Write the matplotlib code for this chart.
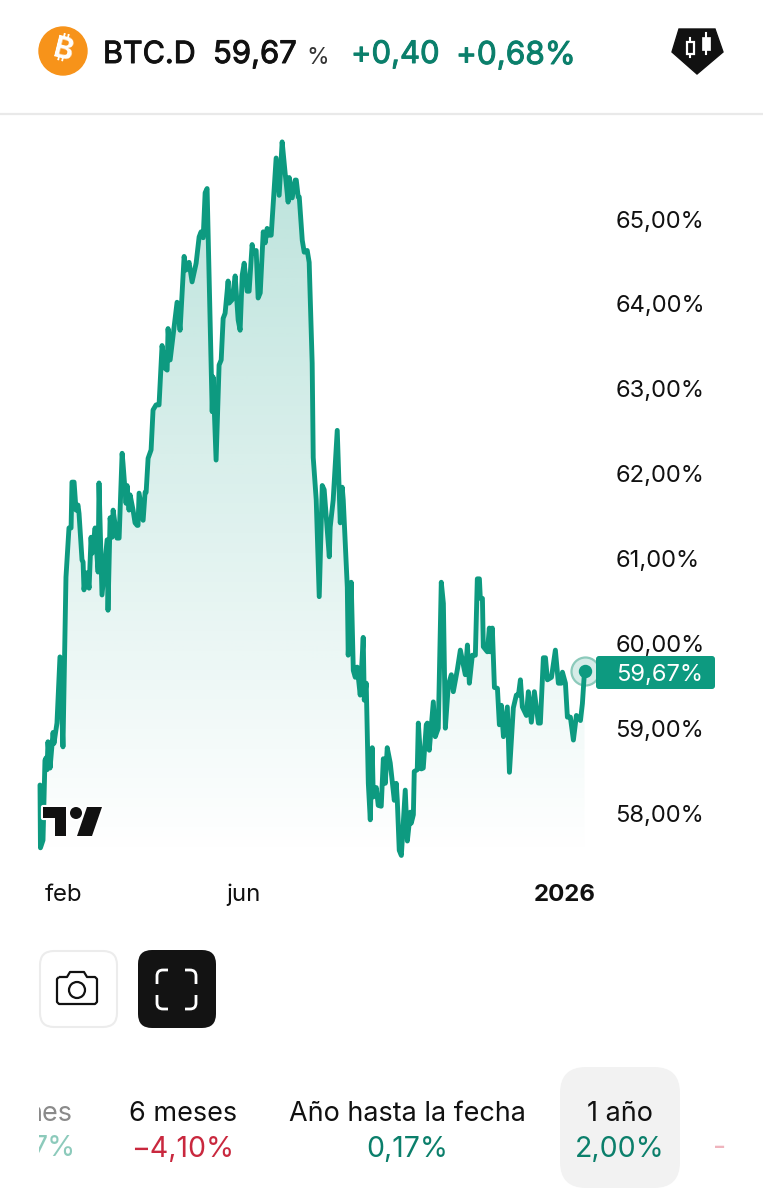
import numpy as np
import matplotlib
matplotlib.use("Agg")
import matplotlib.pyplot as plt
import matplotlib.patheffects as pe
from matplotlib.patches import FancyBboxPatch, Circle, Polygon, Rectangle
from matplotlib.path import Path
from matplotlib.patches import PathPatch
from matplotlib.colors import to_rgb

# --- data -----------------------------------------------------------------
days = [0, 0.3, 2, 3.3, 4, 4.7, 5.3, 6.7, 8.7, 9.3, 11.3, 13.3, 15.3, 17.3, 19.3, 20.7, 21.3, 22.7, 24, 25.3,
        26, 28, 28.7, 29.3, 30.7, 31.3, 32.7, 34, 34.7, 36.7, 38.7, 39.3, 41.3, 44.7, 45.3, 46.7, 48, 48.7, 51.3, 52.7,
        54.7, 55.3, 57.3, 58, 59.3, 60, 62, 63.3, 64.7, 65.3, 66, 68.7, 70, 70.7, 72, 74, 75.3, 77.3, 79.3, 81.3,
        83.3, 84.7, 85.3, 86.7, 91.3, 93.3, 96, 97.3, 99.3, 101.3, 104, 106, 107.3, 108.7, 110, 111.3, 114.7, 115.3, 117.3, 119.3,
        120.7, 122, 123.3, 125.3, 126, 128, 130, 132, 133.3, 134.7, 136, 138, 139.3, 141.3, 142, 144, 145.3, 146.7, 148.7, 150,
        151.3, 152.7, 154, 157.3, 159.3, 161.3, 163.3, 165.3, 166, 168, 170, 170.7, 172, 172.7, 174.7, 176, 178, 179.3, 181.3, 182,
        184, 186, 188, 189.3, 192.7, 193.3, 195.3, 198, 200, 201.3, 202, 204.7, 205.3, 207.3, 208.7, 210, 211.3, 213.3, 215.3, 216,
        217.3, 218.7, 220, 221.3, 222, 224, 225.3, 227.3, 228.7, 230, 231.3, 233.3, 236, 237.3, 238, 239.3, 240.7, 243.3, 244.7, 246.7,
        247.3, 248.7, 249.3, 251.3, 252, 254, 255.3, 257.3, 258, 259.3, 262, 263.3, 265.3, 267.3, 268.7, 270, 272, 274, 275.3, 278,
        280, 283.3, 284.7, 286, 288, 290, 291.3, 292.7, 293.3, 294.7, 295.3, 298, 299.3, 300, 301.3, 302.7, 304.7, 306, 307.3, 308.7,
        311.3, 312.7, 315.3, 317.3, 318.7, 320, 321.3, 324, 325.3, 327.3, 329.3, 332, 333.3, 335.3, 336.7, 338, 340.7, 343.3, 345.3, 347.3,
        348, 350, 351.3, 353.3, 355.3, 357.3, 360, 361.3, 362.7]
dominance = [58.33, 57.59, 57.68, 58.62, 58.65, 58.51, 58.84, 58.53, 58.95, 58.82, 59.06, 59.84, 58.78, 60.78, 61.36, 61.36, 61.90, 61.90, 61.57, 61.63,
             61.53, 60.98, 60.96, 60.63, 60.83, 60.83, 60.65, 61.25, 61.06, 61.36, 60.84, 61.89, 60.57, 61.22, 60.39, 61.48, 61.25, 61.57, 61.24, 61.24,
             62.24, 62.12, 61.65, 61.86, 61.57, 61.75, 61.57, 61.42, 61.39, 61.39, 61.77, 61.45, 61.78, 61.78, 62.18, 62.28, 62.75, 62.81, 62.81, 63.51,
             63.24, 63.22, 63.71, 63.34, 64.02, 63.69, 64.56, 64.40, 64.49, 64.26, 64.48, 64.79, 64.85, 64.78, 65.31, 65.36, 62.73, 63.14, 62.16, 63.28,
             63.34, 63.83, 63.89, 64.27, 64.01, 64.05, 64.33, 63.81, 63.69, 64.34, 64.48, 64.15, 64.15, 64.70, 64.60, 64.63, 64.07, 64.13, 64.85, 64.72,
             64.89, 64.81, 64.81, 65.72, 65.28, 65.91, 65.54, 65.20, 65.49, 65.25, 65.46, 65.46, 65.26, 65.26, 64.75, 64.61, 64.63, 64.49, 63.30, 62.19,
             61.69, 60.55, 61.86, 61.81, 61.02, 61.37, 61.69, 62.51, 61.42, 61.84, 61.69, 60.66, 59.86, 60.72, 59.68, 59.60, 59.72, 59.39, 60.07, 59.33,
             59.53, 58.35, 57.92, 58.77, 58.19, 58.30, 58.09, 58.08, 58.64, 58.35, 58.77, 58.59, 58.15, 58.35, 58.15, 57.56, 57.50, 58.27, 57.67, 58.01,
             57.88, 57.98, 58.49, 58.51, 59.06, 58.52, 58.53, 59.04, 59.06, 58.74, 59.31, 58.90, 59.00, 60.72, 60.47, 59.00, 59.51, 59.63, 59.43, 59.69,
             59.92, 59.63, 59.98, 59.53, 59.86, 59.86, 60.76, 60.76, 60.53, 60.53, 59.96, 59.90, 60.18, 59.90, 60.18, 59.48, 59.47, 59.04, 59.27, 58.90,
             59.25, 58.48, 59.24, 59.39, 59.39, 59.57, 59.25, 59.15, 59.43, 59.07, 59.43, 59.06, 59.06, 59.83, 59.83, 59.57, 59.60, 59.92, 59.53, 59.53,
             59.66, 59.53, 59.13, 59.13, 58.86, 59.15, 59.09, 59.29, 59.67]
y_ticks = [58, 59, 60, 61, 62, 63, 64, 65]
x_ticks = [16, 135.5, 349.5]
x_tick_labels = ["feb", "jun", "2026"]
last_value = "59,67%"
period_names = ["6 meses", "Año hasta la fecha", "1 año"]
period_values = ["−4,10%", "0,17%", "2,00%"]

# --- style ----------------------------------------------------------------
W, H = 763, 1200
plt.rcParams["font.family"] = ["Inter", "Noto Sans", "Roboto", "Open Sans", "Lato", "Liberation Sans", "DejaVu Sans"]
TEAL = "#0d9a80"
GREEN = "#0b7f6b"
RED = "#c9283e"
INK = "#111111"
px = 0.72  # font points per pixel at dpi 100

fig = plt.figure(figsize=(W / 100, H / 100), dpi=100, facecolor="white")


def box(x0, y0, x1, y1):
    return [x0 / W, 1 - y1 / H, (x1 - x0) / W, (y1 - y0) / H]


# --- chart ----------------------------------------------------------------
ax = fig.add_axes(box(40, 130, 584.5, 858))
d = np.array(days)
v = np.array(dominance)
ylim = (57.47, 66.05)
xlim = (0, 362.7)
grad = np.zeros((256, 1, 4))
grad[..., :3] = to_rgb(TEAL)
grad[:, 0, 3] = np.linspace(0.29, 0.0, 256)
im = ax.imshow(grad, extent=(xlim[0], xlim[1], ylim[0], ylim[1]), aspect="auto", origin="upper", zorder=1)
poly = ax.fill_between(d, v, ylim[0], color="none", zorder=1)
im.set_clip_path(poly.get_paths()[0], transform=ax.transData)
ax.plot(d, v, color=TEAL, lw=3.5, solid_joinstyle="round", solid_capstyle="round", zorder=3, clip_on=False)
ax.scatter([d[-1]], [v[-1]], s=(28 * px) ** 2, facecolor="#d6ece8", edgecolor="#8ccabb", linewidth=1.6, zorder=2, clip_on=False)
ax.scatter([d[-1]], [v[-1]], s=(12 * px) ** 2, color=TEAL, zorder=4, clip_on=False)
ax.set_xlim(*xlim)
ax.set_ylim(*ylim)
for s in ax.spines.values():
    s.set_visible(False)
ax.patch.set_alpha(0)
ax.yaxis.tick_right()
ax.set_yticks(y_ticks)
ax.set_yticklabels([f"{t},00%" for t in y_ticks], fontsize=23.7 * px, color=INK)
ax.set_xticks(x_ticks)
ax.set_xticklabels(x_tick_labels, fontsize=24 * px, color=INK)
ax.get_xticklabels()[2].set_fontweight("bold")
ax.tick_params(axis="both", length=0)
ax.tick_params(axis="y", pad=31 * px)
ax.tick_params(axis="x", pad=26 * px)

# --- interface layer ------------------------------------------------------
ui = fig.add_axes([0, 0, 1, 1], zorder=5)
ui.set_xlim(0, W)
ui.set_ylim(H, 0)
ui.axis("off")
ui.patch.set_alpha(0)


def rbox(x0, y0, x1, y1, r, **kw):
    p = FancyBboxPatch((x0 + r, y0 + r), x1 - x0 - 2 * r, y1 - y0 - 2 * r,
                       boxstyle=f"round,pad={r},rounding_size={r}", **kw)
    ui.add_patch(p)
    return p


def txt(x, y, s, size, color=INK, ha="left", weight="normal", heavy=0.0, **kw):
    t = ui.text(x, y, s, fontsize=size * px, color=color, ha=ha, va="center_baseline", fontweight=weight, **kw)
    if heavy:
        t.set_path_effects([pe.withStroke(linewidth=heavy, foreground=color)])
    return t


# header
ui.add_patch(Circle((63, 51), 24, color="#f7931a"))
ui.text(63, 51, "₿", fontsize=30 * px, color="white", ha="center", va="center", fontweight="bold", rotation=-14)
txt(103, 52, "BTC.D", 30.5, heavy=0.7)
txt(213, 52, "59,67", 31, heavy=0.7)
txt(306, 56, "%", 23, color="#333333")
txt(351, 52, "+0,40", 31, color=GREEN, heavy=0.7)
txt(456, 52, "+0,68%", 31.5, color=GREEN, heavy=0.7)
ui.plot([0, W], [114, 114], color="#e9e9e9", lw=1.6)

# ribbon icon
ui.add_patch(Polygon([(679, 29), (715, 29), (723, 52), (697, 74), (672, 52)], closed=True, color="#111111"))
ui.plot([690, 690], [38, 57], color="white", lw=1.5, zorder=3)
ui.add_patch(Rectangle((686.5, 42), 7, 12, fc="#111111", ec="white", lw=1.6, zorder=4))
ui.add_patch(Rectangle((702, 37), 8, 13, fc="white", ec="white", lw=0.5, zorder=3))
ui.plot([706, 706], [33, 54], color="white", lw=1.5, zorder=3)

# TradingView logo
halo = dict(ec="white", lw=3, joinstyle="round")
logo_t = [(43, 807), (66, 807), (66, 836), (55, 836), (55, 818), (43, 818)]
logo_s = [(87, 807), (102, 807), (92, 836), (77, 836)]
for pts in (logo_t, logo_s):
    ui.add_patch(Polygon(pts, closed=True, fc="#111111", **halo))
ui.add_patch(Circle((76, 813), 6, fc="#111111", **halo))
for pts in (logo_t, logo_s):
    ui.add_patch(Polygon(pts, closed=True, fc="#111111", ec="none"))
ui.add_patch(Circle((76, 813), 6, fc="#111111", ec="none"))

# last value label
rbox(596, 656, 715, 689, 3, fc=TEAL, ec="none")
txt(616, 672.5, last_value, 23.7, color="white")

# buttons
rbox(40, 951, 117, 1027, 14, fc="white", ec="#ececec", lw=1.5)
rbox(138, 950, 216, 1028, 14, fc="#131313", ec="none")
cam = Path([(59, 977), (67, 977), (70, 972), (84, 972), (87, 977), (95, 977), (97, 979), (97, 1002), (95, 1004),
            (59, 1004), (57, 1002), (57, 979), (59, 977)])
ui.add_patch(PathPatch(cam, fc="white", ec="#111111", lw=1.6, joinstyle="round"))
ui.add_patch(Circle((77, 990), 8, fc="white", ec="#111111", lw=1.6))
L, R, T, B, ax_h, ax_v, c = 157, 196, 970, 1009, 11, 14, 6
for sx, x0 in ((1, L), (-1, R)):
    for sy, y0 in ((1, T), (-1, B)):
        pth = Path([(x0 + sx * ax_h, y0), (x0 + sx * c, y0), (x0, y0), (x0, y0 + sy * c), (x0, y0 + sy * ax_v)],
                   [Path.MOVETO, Path.LINETO, Path.CURVE3, Path.CURVE3, Path.LINETO])
        ui.add_patch(PathPatch(pth, fc="none", ec="white", lw=2.0))

# period tabs
rbox(560, 1067, 680, 1188, 26, fc="#f2f2f2", ec="none")
clip = Rectangle((39, 1090), 60, 80, transform=ui.transData)
t1 = txt(73, 1111, "nes", 27, color="#8a8a8a", ha="right")
t2 = txt(76, 1146, "7%", 28.5, color="#8ccabb", ha="right")
for t in (t1, t2):
    t.set_clip_path(clip)
    t.set_clip_on(True)
centers = [183, 407, 620]
val_cols = [RED, GREEN, GREEN]
for cx, n, s, col in zip(centers, period_names, period_values, val_cols):
    txt(cx, 1111, n, 27, ha="center")
    txt(cx, 1146, s, 28.5, color=col, ha="center")
txt(720, 1146, "-", 28.5, color="#efb4bd", ha="center")

fig.savefig("out.png", dpi=100, facecolor="white")
